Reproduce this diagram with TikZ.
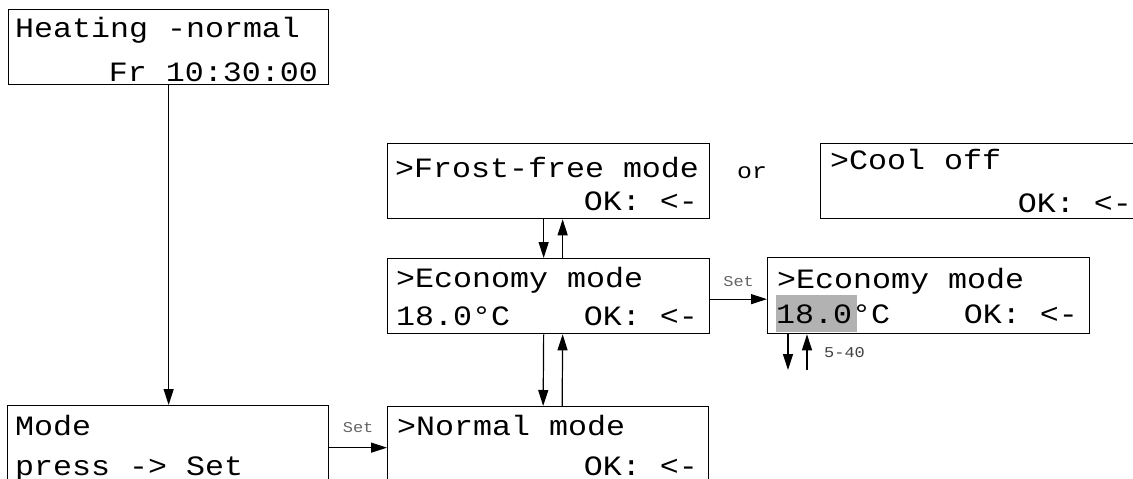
\documentclass[tikz,border=0pt]{standalone}
\usepackage{fontspec}
\newfontfamily\lcdfont[FakeStretch=1.13]{Liberation Mono}
\usetikzlibrary{arrows.meta}
\definecolor{lcdgray}{RGB}{178,178,178}
\definecolor{keygray}{RGB}{100,100,100}

\begin{document}
\begin{tikzpicture}[x=1pt, y=-1pt, >={Triangle[length=16pt,width=10pt]},
  lcd/.style={draw, line width=1.3pt, anchor=north west, minimum width=322pt, minimum height=75pt, inner sep=0pt},
  lrow/.style={font=\lcdfont\fontsize{28}{30}\selectfont, inner sep=0pt, anchor=base west},
  rrow/.style={lrow, anchor=base east},
  keylabel/.style={font=\lcdfont\fontsize{15}{16}\selectfont, text=keygray, inner sep=0pt},
  link/.style={->, line width=1.2pt}]
  \clip (0,0) rectangle (1133,479);
  % highlighted digits
  \fill[lcdgray] (776,295) rectangle (857,332);
  % displays
  \node[lcd, minimum width=320pt] (heat) at (8,9) {};
  \node[lrow] (heat1) at (15,37) {Heating -normal};
  \node[rrow] (heat2) at (318,81) {Fr 10:30:00};
  \node[lcd] (frost) at (387,143) {};
  \node[lrow] (frost1) at (395,177) {>Frost-free mode};
  \node[rrow] (frost2) at (698,210) {OK: <-};
  \node[lcd] (cool) at (820,143) {};
  \node[lrow] (cool1) at (830,169) {>Cool off};
  \node[rrow] (cool2) at (1132,212) {OK: <-};
  \node[lcd] (eco) at (387,258) {};
  \node[lrow] (eco1) at (396,287) {>Economy mode};
  \node[lrow] (eco2) at (396,325) {18.0°C};
  \node[rrow] (eco3) at (698,325) {OK: <-};
  \node[lcd, minimum height=76pt] (ecoset) at (767,257) {};
  \node[lrow] (ecoset1) at (777,288) {>Economy mode};
  \node[lrow] (ecoset2) at (776,323) {18.0°C};
  \node[rrow] (ecoset3) at (1078,323) {OK: <-};
  \node[lcd, minimum width=321pt, minimum height=84pt] (mode) at (7,405) {};
  \node[lrow] (mode1) at (15,435) {Mode};
  \node[lrow] (mode2) at (15,475) {press -> Set};
  \node[lcd, minimum width=321pt, minimum height=82pt] (normal) at (387,406) {};
  \node[lrow] (normal1) at (397,435) {>Normal mode};
  \node[rrow] (normal2) at (698,475) {OK: <-};
  \node[font=\lcdfont\fontsize{22}{24}\selectfont, inner sep=0pt] (or) at (752,173) {or};
  % connectors
  \draw[link] (heat.south) -- (heat.south |- mode.north);
  \draw[link] ([xshift=-5pt]frost.south) -- ([xshift=-5pt]eco.north);
  \draw[link] ([xshift=14pt]eco.north) -- ([xshift=14pt]frost.south);
  \draw[link] ([xshift=-5pt]eco.south) -- ([xshift=-5pt]normal.north);
  \draw[link] ([xshift=14pt]normal.north) -- ([xshift=14pt]eco.south);
  \draw[link] (mode.east) -- node[keylabel, above=14pt] (setA) {Set} (mode.east -| normal.west);
  \draw[link] ([yshift=-3pt]eco.east) -- node[keylabel, above=12pt] (setB) {Set} ([yshift=-3pt]eco.east -| ecoset.west);
  \coordinate (dn) at (788,370);
  \coordinate (up) at (807,370);
  \draw[link] (dn |- ecoset.south) -- (dn);
  \draw[link] (up) -- (up |- ecoset.south);
  \node[keylabel, text=black!75, anchor=west] (range) at (824,353) {5-40};
\end{tikzpicture}
\end{document}
